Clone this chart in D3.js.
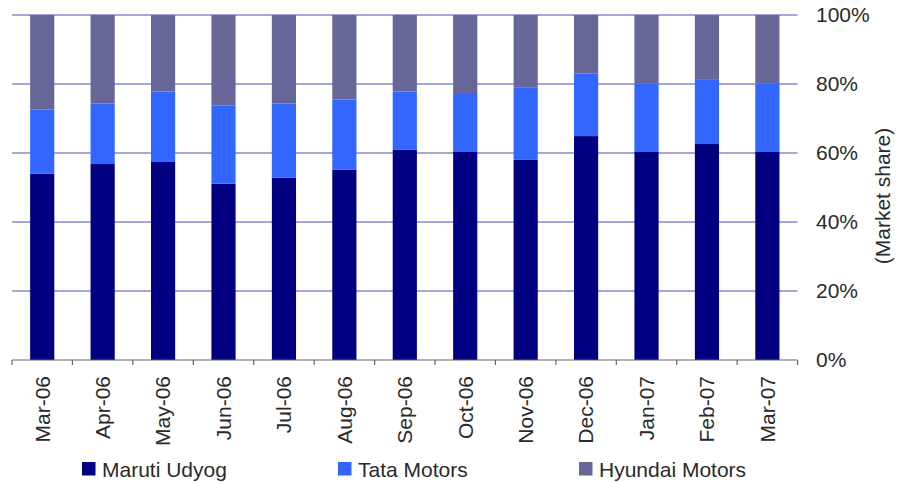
<!DOCTYPE html>
<html>
<head>
<meta charset="utf-8">
<script src="https://cdn.jsdelivr.net/npm/d3@7"></script>
<style>
  html, body { margin: 0; padding: 0; background: #fff; }
  svg { display: block; }
  text { font-family: "Liberation Sans", Arial, Helvetica, sans-serif; fill: #2a2a2a; }
</style>
</head>
<body>
<svg id="chart" width="903" height="482"></svg>
<script>
// ---- data ----
const categories = ["Mar-06","Apr-06","May-06","Jun-06","Jul-06","Aug-06","Sep-06","Oct-06","Nov-06","Dec-06","Jan-07","Feb-07","Mar-07"];
const maruti  = [54.0, 56.8, 57.4, 51.1, 52.8, 55.2, 60.9, 60.3, 58.0, 64.9, 60.3, 62.6, 60.3];
const tata    = [18.6, 17.5, 20.4, 22.6, 21.5, 20.3, 16.9, 16.8, 20.9, 18.1, 19.8, 18.6, 19.8];
const hyundai = [27.4, 25.7, 22.2, 26.3, 25.7, 24.5, 22.2, 22.9, 21.1, 17.0, 19.9, 18.8, 19.9];
const seriesNames = ["Maruti Udyog", "Tata Motors", "Hyundai Motors"];
const yTicks = [0, 20, 40, 60, 80, 100];
const yTitle = "(Market share)";

// ---- styling/layout ----
const colors = ["#000080", "#3366ff", "#666699"];
const plotL = 12, plotR = 797.6, plotT = 15, plotB = 360;
const fontSize = 21;

const rows = categories.map((c, i) => ({cat: c, s0: maruti[i], s1: tata[i], s2: hyundai[i]}));
const stack = d3.stack().keys(["s0", "s1", "s2"]).offset(d3.stackOffsetExpand);
const layers = stack(rows);

const svg = d3.select("#chart");

const x = d3.scaleBand().domain(categories).range([plotL, plotR]).paddingInner(0.6).paddingOuter(0.3);
const y = d3.scaleLinear().domain([0, 1]).range([plotB, plotT]);

// gridlines
svg.append("g").selectAll("line").data(yTicks.slice(1)).join("line")
  .attr("x1", plotL).attr("x2", plotR)
  .attr("y1", d => y(d / 100)).attr("y2", d => y(d / 100))
  .attr("stroke", "#8888cc").attr("stroke-width", 1.4);

// bars
svg.append("g").selectAll("g").data(layers).join("g")
  .attr("fill", (d, i) => colors[i])
  .selectAll("rect").data(d => d).join("rect")
  .attr("x", d => x(d.data.cat))
  .attr("width", x.bandwidth())
  .attr("y", d => y(d[1]))
  .attr("height", d => y(d[0]) - y(d[1]));

// x axis line + ticks at band boundaries
const step = x.step();
const offset = (step - x.bandwidth()) / 2;
const bounds = categories.map(c => x(c) - offset).concat([x(categories[categories.length - 1]) - offset + step]);
const ax = svg.append("g");
ax.append("line").attr("x1", plotL).attr("x2", plotR).attr("y1", plotB).attr("y2", plotB)
  .attr("stroke", "#666").attr("stroke-width", 1.2);
ax.selectAll("line.tick").data(bounds).join("line").attr("class", "tick")
  .attr("x1", d => d).attr("x2", d => d).attr("y1", plotB).attr("y2", plotB + 5)
  .attr("stroke", "#666").attr("stroke-width", 1.2);

// x labels
svg.append("g").selectAll("text").data(categories).join("text")
  .attr("transform", d => `translate(${x(d) + x.bandwidth() / 2},${plotB + 16}) rotate(-90)`)
  .attr("text-anchor", "end")
  .attr("dy", "0.35em")
  .style("font-size", fontSize + "px")
  .text(d => d);

// y labels on right
svg.append("g").selectAll("text").data(yTicks).join("text")
  .attr("x", 816).attr("y", d => y(d / 100))
  .attr("dy", "0.35em")
  .style("font-size", fontSize + "px")
  .text(d => d3.format(".0%")(d / 100));

// y title
svg.append("text")
  .attr("transform", "translate(883,196) rotate(-90)")
  .attr("text-anchor", "middle").attr("dy", "0.35em")
  .style("font-size", fontSize + "px")
  .text(yTitle);

// legend
const legendX = [82, 338, 579];
const lg = svg.append("g").selectAll("g").data(seriesNames).join("g")
  .attr("transform", (d, i) => `translate(${legendX[i]},462)`);
lg.append("rect").attr("width", 13.5).attr("height", 13.5).attr("fill", (d, i) => colors[i]);
lg.append("text").attr("x", 20).attr("y", 14.5).style("font-size", fontSize + "px").text(d => d);
</script>
</body>
</html>
